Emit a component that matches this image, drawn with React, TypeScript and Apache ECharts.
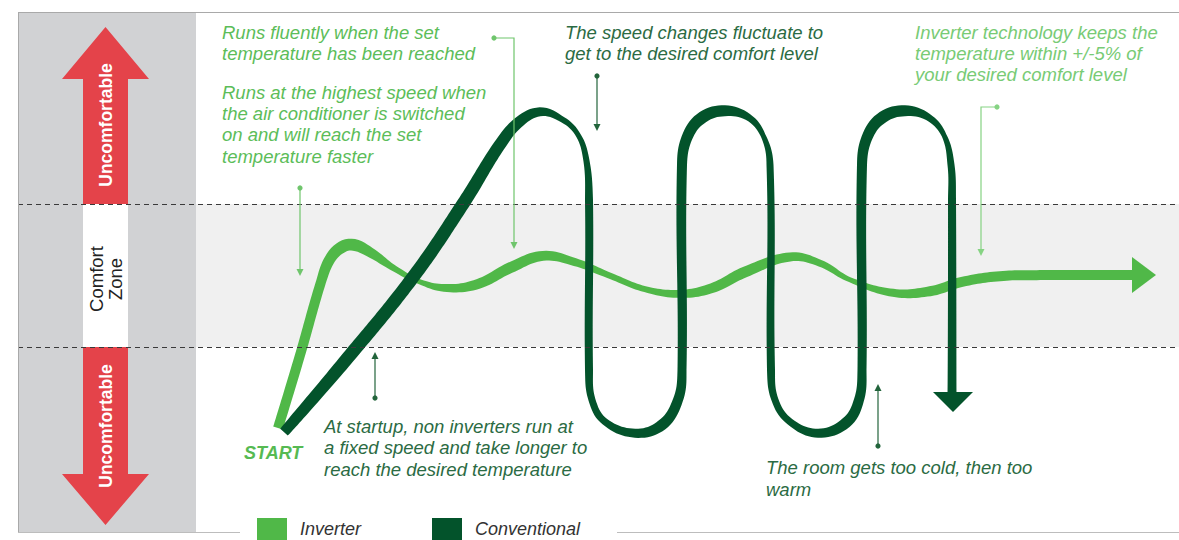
import React, { useEffect, useRef } from 'react';
import * as echarts from 'echarts';

const FONT = '"Liberation Sans", Arial, sans-serif';

// Axis scales: x = time units, y = room temperature level (0 bottom .. 100 top)
const xMax = 116.1;
const panelEnd = 17.8;
const comfortLow = 35.6;
const comfortHigh = 63.1;

const seriesNames = ['Inverter', 'Conventional'];

const inverterX = [26.0, 28.2, 30.3, 31.2, 32.4, 33.6, 35.2, 37.7, 40.2, 42.9, 46.0, 49.2, 52.5, 55.7, 59.3, 62.7, 66.2, 69.4, 72.7, 77.2, 80.2, 83.2, 87.5, 91.2, 94.4, 98.2, 102.2, 111.7];
const inverterY = [20.0, 34.0, 48.1, 52.5, 54.8, 55.2, 53.8, 50.6, 48.1, 46.9, 47.7, 50.8, 53.1, 51.9, 49.2, 46.7, 45.8, 46.9, 50.0, 52.9, 51.7, 48.5, 46.0, 46.3, 48.1, 49.2, 49.4, 49.4];

const conventionalX = [26.6, 32.8, 39.5, 44.5, 48.3, 50.2, 52.2, 54.2, 55.9, 56.8, 57.1, 57.1, 57.4, 58.7, 61.7, 64.4, 66.0, 66.4, 66.4, 67.0, 68.5, 70.7, 73.0, 74.5, 75.2, 75.3, 75.7, 77.2, 80.0, 82.8, 84.1, 84.4, 84.4, 85.0, 86.5, 88.7, 91.0, 92.6, 93.3, 93.4, 93.4];
const conventionalY = [19.2, 33.1, 49.0, 63.1, 74.8, 79.0, 80.8, 79.6, 76.7, 71.9, 63.8, 31.2, 25.4, 21.2, 19.0, 20.6, 25.4, 31.2, 70.6, 76.3, 79.8, 81.0, 79.8, 76.3, 70.6, 31.2, 25.4, 21.2, 19.0, 21.0, 25.4, 31.2, 70.6, 76.3, 79.8, 81.0, 79.8, 76.3, 70.6, 63.8, 26.9];

const inverterArrowHead = [[112.6, 49.4]];
const conventionalArrowHead = [[93.5, 25.0]];

// ribbon thickness (px) along each curve — styling, kept apart from the data
const inverterRibbonWidth = [10, 10, 10, 11, 12, 12, 10, 6, 5, 8, 10, 11, 10, 8, 6, 6, 8, 10, 11, 9, 7, 5, 8, 10, 10, 10, 10, 10];
const conventionalRibbonWidth = [10, 13, 13, 13, 12, 11, 9, 6, 5, 6, 8, 8, 7, 7, 9, 11, 10, 9, 10, 11, 12, 11, 7, 5, 7, 8, 7, 7, 9, 11, 10, 9, 10, 11, 12, 11, 7, 5, 7, 8, 9];

const COLORS = {
  inverter: '#50b848',
  conventional: '#03532b',
  lightText: '#5cbd59',
  lighterText: '#78cb75',
  darkText: '#2b6b43',
  red: '#e4434a',
  panel: '#d1d2d4',
  band: '#f0f0f0',
};

function ribbonPolygon(P: number[][], W: number[], smooth = 0.4) {
  const n = P.length;
  const cpPrev: number[][] = [];
  const cpNext: number[][] = [];
  for (let i = 0; i < n; i++) {
    if (i === 0 || i === n - 1) {
      cpPrev[i] = P[i];
      cpNext[i] = P[i];
      continue;
    }
    const vx = P[i + 1][0] - P[i - 1][0];
    const vy = P[i + 1][1] - P[i - 1][1];
    const d0 = Math.hypot(P[i][0] - P[i - 1][0], P[i][1] - P[i - 1][1]);
    const d1 = Math.hypot(P[i + 1][0] - P[i][0], P[i + 1][1] - P[i][1]);
    const s = d0 + d1 || 1;
    cpPrev[i] = [P[i][0] - vx * smooth * (d0 / s), P[i][1] - vy * smooth * (d0 / s)];
    cpNext[i] = [P[i][0] + vx * smooth * (d1 / s), P[i][1] + vy * smooth * (d1 / s)];
  }
  const S: number[][] = [];
  const SW: number[] = [];
  for (let i = 0; i < n - 1; i++) {
    const a = P[i], b = cpNext[i], c = cpPrev[i + 1], d = P[i + 1];
    const steps = Math.max(3, Math.ceil(Math.hypot(d[0] - a[0], d[1] - a[1]) / 3));
    for (let k = 0; k < steps; k++) {
      const t = k / steps;
      const mt = 1 - t;
      const x = mt * mt * mt * a[0] + 3 * mt * mt * t * b[0] + 3 * mt * t * t * c[0] + t * t * t * d[0];
      const y = mt * mt * mt * a[1] + 3 * mt * mt * t * b[1] + 3 * mt * t * t * c[1] + t * t * t * d[1];
      S.push([x, y]);
      SW.push(W[i] + (W[i + 1] - W[i]) * t);
    }
  }
  S.push(P[n - 1]);
  SW.push(W[n - 1]);
  const left: number[][] = [];
  const right: number[][] = [];
  for (let j = 0; j < S.length; j++) {
    const p = S[Math.max(j - 1, 0)];
    const q = S[Math.min(j + 1, S.length - 1)];
    let tx = q[0] - p[0];
    let ty = q[1] - p[1];
    const len = Math.hypot(tx, ty) || 1;
    tx /= len;
    ty /= len;
    const h = SW[j] / 2;
    left.push([S[j][0] - ty * h, S[j][1] + tx * h]);
    right.push([S[j][0] + ty * h, S[j][1] - tx * h]);
  }
  return left.concat(right.reverse());
}

function arrowConnector(points: number[][], color: string, z = 8) {
  const n = points.length;
  const tip = points[n - 1];
  const prev = points[n - 2];
  const dx = tip[0] - prev[0];
  const dy = tip[1] - prev[1];
  const len = Math.hypot(dx, dy) || 1;
  const ux = dx / len;
  const uy = dy / len;
  const hl = 7;
  const hw = 3.5;
  const bx = tip[0] - ux * hl;
  const by = tip[1] - uy * hl;
  const linePts = points.slice(0, n - 1).concat([[bx, by]]);
  return [
    { type: 'polyline', z, silent: true, shape: { points: linePts }, style: { stroke: color, lineWidth: 1.2, fill: null } },
    { type: 'circle', z, silent: true, shape: { cx: points[0][0], cy: points[0][1], r: 2.6 }, style: { fill: color } },
    {
      type: 'polygon', z, silent: true,
      shape: { points: [tip, [bx - uy * hw, by + ux * hw], [bx + uy * hw, by - ux * hw]] },
      style: { fill: color },
    },
  ];
}

function textBlock(text: string, x: number, top: number, color: string, lineHeight = 21, font = `italic 18.5px ${FONT}`) {
  return {
    type: 'text', z: 9, silent: true, x, y: top,
    style: { text, fill: color, font, lineHeight, textAlign: 'left', textVerticalAlign: 'top' },
  };
}

function ribbonSeries(name: string, xs: number[], ys: number[], widths: number[], color: string, z: number) {
  return {
    name,
    type: 'custom',
    coordinateSystem: 'cartesian2d',
    data: xs.map((x, i) => [x, ys[i]]),
    encode: { x: 0, y: 1 },
    z,
    silent: true,
    itemStyle: { color },
    renderItem: (params: any, api: any) => {
      if (params.dataIndex !== 0) return null;
      const pts = xs.map((x, i) => api.coord([x, ys[i]]));
      return {
        type: 'polygon',
        shape: { points: ribbonPolygon(pts, widths) },
        style: { fill: color, stroke: null },
      };
    },
  };
}

export default function App() {
  const ref = useRef<HTMLDivElement>(null);

  useEffect(() => {
    if (!ref.current) return;
    const chart = echarts.init(ref.current, undefined, { renderer: 'svg' });

    const graphic: any[] = [
      // left panel
      { type: 'rect', z: 0, silent: true, shape: { x: 18, y: 12, width: 178, height: 521 }, style: { fill: COLORS.panel } },
      // frame lines
      { type: 'line', z: 6, silent: true, shape: { x1: 18, y1: 12.5, x2: 1179, y2: 12.5 }, style: { stroke: '#a9a9a9', lineWidth: 1 } },
      { type: 'line', z: 6, silent: true, shape: { x1: 18.5, y1: 12, x2: 18.5, y2: 533 }, style: { stroke: '#a9a9a9', lineWidth: 1 } },
      { type: 'line', z: 6, silent: true, shape: { x1: 18, y1: 532.5, x2: 240, y2: 532.5 }, style: { stroke: '#bdbdbd', lineWidth: 1 } },
      { type: 'line', z: 6, silent: true, shape: { x1: 617, y1: 532.5, x2: 1179, y2: 532.5 }, style: { stroke: '#bdbdbd', lineWidth: 1 } },
      // comfort box in the panel
      { type: 'rect', z: 1, silent: true, shape: { x: 83, y: 204, width: 45, height: 143 }, style: { fill: '#ffffff' } },
      // red arrows
      {
        type: 'polygon', z: 1, silent: true,
        shape: { points: [[105.5, 27], [149, 79], [128, 79], [128, 204], [83, 204], [83, 79], [62, 79]] },
        style: { fill: COLORS.red },
      },
      {
        type: 'polygon', z: 1, silent: true,
        shape: { points: [[83, 347], [128, 347], [128, 474], [149, 474], [105.5, 525], [62, 474], [83, 474]] },
        style: { fill: COLORS.red },
      },
      {
        type: 'text', z: 2, silent: true, x: 106, y: 125, rotation: Math.PI / 2,
        style: { text: 'Uncomfortable', fill: '#ffffff', font: `bold 17.5px ${FONT}`, textAlign: 'center', textVerticalAlign: 'middle' },
      },
      {
        type: 'text', z: 2, silent: true, x: 106, y: 426, rotation: Math.PI / 2,
        style: { text: 'Uncomfortable', fill: '#ffffff', font: `bold 17.5px ${FONT}`, textAlign: 'center', textVerticalAlign: 'middle' },
      },
      {
        type: 'text', z: 2, silent: true, x: 106, y: 279, rotation: Math.PI / 2,
        style: { text: 'Comfort\nZone', fill: '#222222', font: `18.5px ${FONT}`, lineHeight: 19, textAlign: 'center', textVerticalAlign: 'middle' },
      },
      // annotations
      textBlock('Runs fluently when the set\ntemperature has been reached', 222, 21.5, COLORS.lightText),
      textBlock('Runs at the highest speed when\nthe air conditioner is switched\non and will reach the set\ntemperature faster', 222, 81.5, COLORS.lightText, 21.3),
      textBlock('The speed changes fluctuate to\nget to the desired comfort level', 565, 21.5, COLORS.darkText),
      textBlock('Inverter technology keeps the\ntemperature within +/-5% of\nyour desired comfort level', 915, 21.5, COLORS.lighterText),
      textBlock('At startup, non inverters run at\na fixed speed and take longer to\nreach the desired temperature', 324, 415.5, COLORS.darkText, 21.5),
      textBlock('The room gets too cold, then too\nwarm', 766, 456, COLORS.darkText, 22),
      textBlock('START', 244, 442, '#56ba52', 22, `italic bold 18px ${FONT}`),
      ...arrowConnector([[494, 38], [514, 38], [514, 249]], '#6fc56c'),
      ...arrowConnector([[300, 188], [300, 276]], '#6fc56c'),
      ...arrowConnector([[597, 76], [597, 131]], '#22643b'),
      ...arrowConnector([[997, 107], [981, 107], [981, 256]], '#86d383'),
      ...arrowConnector([[375, 398], [375, 352]], '#22643b'),
      ...arrowConnector([[878, 446], [878, 384]], '#22643b'),
    ];

    const option: any = {
      animation: false,
      grid: { left: 18, right: 0, top: 12, bottom: 8, containLabel: false },
      xAxis: { type: 'value', min: 0, max: xMax, show: false },
      yAxis: { type: 'value', min: 0, max: 100, show: false },
      legend: {
        data: seriesNames,
        left: 257,
        top: 518,
        padding: 0,
        itemWidth: 30,
        itemHeight: 22,
        itemGap: 71,
        icon: 'rect',
        selectedMode: false,
        textStyle: { fontFamily: FONT, fontSize: 18, fontStyle: 'italic', color: '#333333', padding: [0, 0, 0, 8] },
      },
      series: [
        {
          name: 'comfortBand',
          type: 'line',
          data: [],
          z: 1,
          silent: true,
          markArea: {
            silent: true,
            itemStyle: { color: COLORS.band },
            data: [[{ xAxis: panelEnd, yAxis: comfortLow }, { xAxis: xMax, yAxis: comfortHigh }]],
          },
        },
        ribbonSeries(seriesNames[0], inverterX, inverterY, inverterRibbonWidth, COLORS.inverter, 3),
        ribbonSeries(seriesNames[1], conventionalX, conventionalY, conventionalRibbonWidth, COLORS.conventional, 4),
        {
          name: 'inverterArrow',
          type: 'scatter',
          data: inverterArrowHead,
          symbol: 'triangle',
          symbolSize: [36, 24],
          symbolRotate: -90,
          itemStyle: { color: COLORS.inverter, opacity: 1 },
          z: 3,
          silent: true,
        },
        {
          name: 'conventionalArrow',
          type: 'scatter',
          data: conventionalArrowHead,
          symbol: 'triangle',
          symbolSize: [40, 20],
          symbolRotate: 180,
          itemStyle: { color: COLORS.conventional, opacity: 1 },
          z: 4,
          silent: true,
        },
        {
          name: 'comfortLimits',
          type: 'line',
          data: [],
          z: 5,
          silent: true,
          markLine: {
            silent: true,
            symbol: 'none',
            label: { show: false },
            lineStyle: { type: [5, 4], color: '#3a3a3a', width: 1 },
            data: [{ yAxis: comfortHigh }, { yAxis: comfortLow }],
          },
        },
      ],
      graphic,
    };

    chart.setOption(option);
    return () => chart.dispose();
  }, []);

  return (
    <div
      ref={ref}
      style={{ position: 'fixed', left: 0, top: 0, width: 1179, height: 540, background: '#ffffff' }}
    />
  );
}
